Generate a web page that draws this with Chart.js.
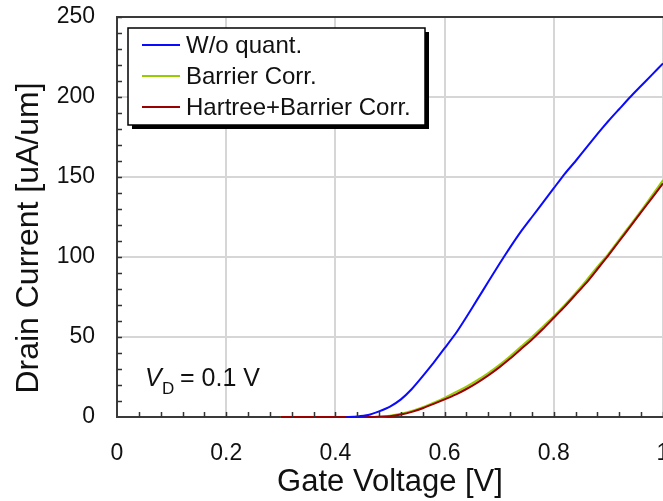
<!DOCTYPE html>
<html>
<head>
<meta charset="utf-8">
<script src="https://cdn.jsdelivr.net/npm/chart.js@4.4.0/dist/chart.umd.min.js"></script>
<style>
  html, body { margin: 0; padding: 0; background: #fff; }
  #wrap { width: 663px; height: 501px; }
</style>
</head>
<body>
<div id="wrap"><canvas id="chart"></canvas></div>
<script>
// Gate voltage sweeps (V)
const vgBlue = [0.42, 0.44, 0.46, 0.48, 0.50, 0.52, 0.54, 0.56, 0.58, 0.60, 0.62, 0.64, 0.66, 0.68, 0.70, 0.72, 0.74, 0.76, 0.78, 0.80, 0.82, 0.84, 0.86, 0.88, 0.90, 0.92, 0.94, 0.96, 0.98, 1.00];
const vgCorr = [0.30, 0.34, 0.38, 0.42, 0.46, 0.48, 0.50, 0.52, 0.54, 0.56, 0.58, 0.60, 0.62, 0.64, 0.66, 0.68, 0.70, 0.72, 0.74, 0.76, 0.78, 0.80, 0.82, 0.84, 0.86, 0.88, 0.90, 0.92, 0.94, 0.96, 0.98, 1.00];

// Drain current (uA/um)
const idNoQuant = [0, 0.3, 1.2, 3.5, 6.5, 11, 17.5, 25.5, 34, 43, 52, 62.5, 73.5, 84.5, 95.5, 106, 116, 125, 134, 143, 152, 160, 168.5, 177, 185, 192.5, 200, 207, 214, 221];
const idBarrier = [0, 0, 0, 0, 0, 0.2, 0.8, 2, 3.8, 6.2, 9, 12, 15.5, 19, 23, 27.5, 32.5, 38, 44, 50, 56.5, 63, 70, 77.5, 85.5, 94, 102, 111, 120, 129, 138.5, 148];
const idHartree = [0, 0, 0, 0, 0, 0.1, 0.4, 1.5, 3.2, 5.5, 8.2, 11, 14, 17.5, 21.5, 26, 31, 36.5, 42.5, 48.5, 55, 62, 69, 76.5, 84, 92.5, 101, 110, 119, 128, 137, 146];

const seriesNames = ['W/o quant.', 'Barrier Corr.', 'Hartree+Barrier Corr.'];
const seriesColors = ['#0a0aff', '#99cc00', '#990000'];

const xMajor = 0.2, xMinor = 0.04;
const yMajor = 50, yMinor = 10;

const FONT = "'Liberation Sans', Arial, sans-serif";

const pts = (xs, ys) => xs.map((x, i) => ({ x: x, y: ys[i] }));
const isMajor = (v, step) => Math.abs(v / step - Math.round(v / step)) < 1e-6;

// inward tick marks, legend box and V_D note
const decorations = {
  id: 'decorations',
  afterDraw(chart) {
    const ctx = chart.ctx;
    const area = chart.chartArea;
    const xs = chart.scales.x, ys = chart.scales.y;
    ctx.save();
    ctx.strokeStyle = '#333';
    ctx.lineWidth = 1.5;
    ctx.beginPath();
    xs.ticks.forEach((t, i) => {
      const px = Math.round(xs.getPixelForTick(i)) + 0.5;
      if (t.value <= 0) return;
      ctx.moveTo(px, area.bottom);
      ctx.lineTo(px, area.bottom - 5);
    });
    ys.ticks.forEach((t, i) => {
      const py = Math.round(ys.getPixelForTick(i)) + 0.5;
      if (t.value <= 0) return;
      ctx.moveTo(area.left, py);
      ctx.lineTo(area.left + 5, py);
    });
    ctx.stroke();

    // y axis title
    ctx.fillStyle = '#111';
    ctx.font = '32px ' + FONT;
    ctx.textAlign = 'center';
    ctx.textBaseline = 'middle';
    ctx.save();
    ctx.translate(29, 238);
    ctx.rotate(-Math.PI / 2);
    ctx.fillText('Drain Current [uA/um]', 0, 0);
    ctx.restore();

    // legend box with shadow
    const bx = 128, by = 28, bw = 297, bh = 97;
    ctx.fillStyle = '#000';
    ctx.fillRect(bx + 4, by + 4, bw, bh);
    ctx.fillStyle = '#fff';
    ctx.fillRect(bx, by, bw, bh);
    ctx.strokeStyle = '#000';
    ctx.lineWidth = 1.5;
    ctx.strokeRect(bx, by, bw, bh);
    const rows = [45, 76, 107];
    ctx.font = '24px ' + FONT;
    ctx.textAlign = 'left';
    chart.data.datasets.forEach((ds, i) => {
      ctx.strokeStyle = ds.borderColor;
      ctx.lineWidth = 2;
      ctx.beginPath();
      ctx.moveTo(142, rows[i]);
      ctx.lineTo(180, rows[i]);
      ctx.stroke();
      ctx.fillStyle = '#111';
      ctx.fillText(ds.label, 186, rows[i] + 1);
    });

    // V_D note
    ctx.fillStyle = '#111';
    ctx.textBaseline = 'alphabetic';
    ctx.font = 'italic 25px ' + FONT;
    ctx.fillText('V', 145, 386);
    ctx.font = '17px ' + FONT;
    ctx.fillText('D', 162, 394);
    ctx.font = '25px ' + FONT;
    ctx.fillText('= 0.1 V', 180, 386);
    ctx.restore();
  }
};

new Chart(document.getElementById('chart'), {
  type: 'line',
  data: {
    datasets: [
      { label: seriesNames[0], data: pts(vgBlue, idNoQuant), borderColor: seriesColors[0], order: 0 },
      { label: seriesNames[1], data: pts(vgCorr, idBarrier), borderColor: seriesColors[1], order: 2 },
      { label: seriesNames[2], data: pts(vgCorr, idHartree), borderColor: seriesColors[2], order: 1 }
    ]
  },
  options: {
    responsive: true,
    maintainAspectRatio: false,
    animation: false,
    clip: false,
    elements: {
      line: { borderWidth: 2, tension: 0.15, fill: false },
      point: { radius: 0 }
    },
    layout: { padding: { top: 17, left: 0, right: 0, bottom: 0 } },
    plugins: { legend: { display: false }, tooltip: { enabled: false } },
    scales: {
      x: {
        type: 'linear',
        min: 0, max: 1,
        afterFit(scale) { scale.height = 84; scale.paddingLeft = 0; scale.paddingRight = 0; },
        ticks: {
          stepSize: xMinor,
          autoSkip: false,
          maxRotation: 0,
          padding: 23,
          color: '#111',
          font: { family: FONT, size: 23 },
          callback: v => isMajor(v, xMajor) ? String(Math.round(v * 10) / 10) : ''
        },
        grid: {
          drawTicks: false,
          lineWidth: 2,
          color: c => (c.tick && isMajor(c.tick.value, xMajor)) ? '#d6d6d6' : 'rgba(0,0,0,0)'
        },
        border: { color: '#3a3a3a', width: 2 },
        title: {
          display: true,
          text: 'Gate Voltage [V]',
          color: '#111',
          font: { family: FONT, size: 31 },
          padding: { top: 0, bottom: 0 }
        }
      },
      y: {
        min: 0, max: 250,
        afterFit(scale) { scale.width = 117; scale.paddingTop = 0; scale.paddingBottom = 0; },
        ticks: {
          stepSize: yMinor,
          autoSkip: false,
          padding: 22,
          color: '#111',
          font: { family: FONT, size: 23 },
          callback: v => isMajor(v, yMajor) ? String(v) : ''
        },
        grid: {
          drawTicks: false,
          lineWidth: 2,
          color: c => {
            if (!c.tick) return 'rgba(0,0,0,0)';
            if (c.tick.value === 250) return '#3a3a3a';
            return isMajor(c.tick.value, yMajor) ? '#d6d6d6' : 'rgba(0,0,0,0)';
          }
        },
        border: { color: '#3a3a3a', width: 2 }
      }
    }
  },
  plugins: [decorations]
});
</script>
</body>
</html>
